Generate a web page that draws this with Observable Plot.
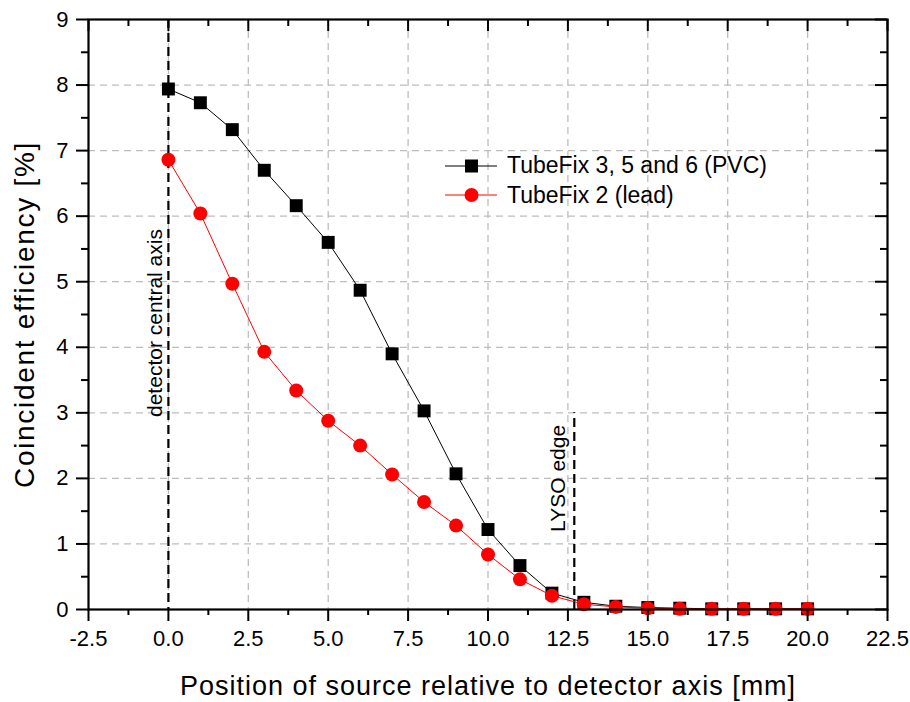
<!DOCTYPE html>
<html>
<head>
<meta charset="utf-8">
<script src="https://cdn.jsdelivr.net/npm/d3@7"></script>
<script src="https://cdn.jsdelivr.net/npm/@observablehq/plot@0.6"></script>
<style>
  html, body { margin: 0; padding: 0; background: #fff; }
  #wrap { position: relative; width: 910px; height: 702px; font-family: "Liberation Sans", Arial, sans-serif; }
  #legend { position: absolute; left: 445px; top: 151px; font-size: 23px; color: #000; }
  #legend .row { display: flex; align-items: center; height: 29.5px; }
  #legend svg { margin-right: 8px; }
</style>
</head>
<body>
<div id="wrap"></div>
<script>
// ---- data ----
const positions = [0, 1, 2, 3, 4, 5, 6, 7, 8, 9, 10, 11, 12, 13, 14, 15, 16, 17, 18, 19, 20];
const pvcEff  = [7.94, 7.73, 7.32, 6.70, 6.16, 5.60, 4.87, 3.90, 3.03, 2.07, 1.22, 0.67, 0.25, 0.11, 0.05, 0.03, 0.02, 0.01, 0.01, 0.01, 0.01];
const leadEff = [6.86, 6.04, 4.97, 3.93, 3.34, 2.88, 2.50, 2.06, 1.64, 1.28, 0.84, 0.46, 0.21, 0.08, 0.04, 0.02, 0.01, 0.01, 0.01, 0.01, 0.01];
const seriesNames = ["TubeFix 3, 5 and 6 (PVC)", "TubeFix 2 (lead)"];
const seriesColors = ["#000000", "#ff0000"];
const xTicks = [-2.5, 0, 2.5, 5, 7.5, 10, 12.5, 15, 17.5, 20, 22.5];
const xMinorTicks = [-1.25, 1.25, 3.75, 6.25, 8.75, 11.25, 13.75, 16.25, 18.75, 21.25];
const yTicks = [0, 1, 2, 3, 4, 5, 6, 7, 8, 9];
const yMinorTicks = [0.5, 1.5, 2.5, 3.5, 4.5, 5.5, 6.5, 7.5, 8.5];
const centralAxisX = 0;
const lysoEdgeX = 12.7;
const lysoEdgeTop = 3;
const xTitle = "Position of source relative to detector axis [mm]";
const yTitle = "Coincident efficiency [%]";
const annotCentral = "detector central axis";
const annotLyso = "LYSO edge";

const pvc = positions.map((x, i) => ({x, y: pvcEff[i]}));
const lead = positions.map((x, i) => ({x, y: leadEff[i]}));

const W = 910, H = 702, mL = 88, mR = 23, mT = 19, mB = 93;
const plotW = W - mL - mR, plotH = H - mT - mB;

const gridStyle = {stroke: "#bdbdbd", strokeOpacity: 1, strokeWidth: 1.3, strokeDasharray: "7,5"};
const fmtX = d => d.toFixed(1).replace("\u2212", "-");

const chart = Plot.plot({
  width: W, height: H,
  marginLeft: mL, marginRight: mR, marginTop: mT, marginBottom: mB,
  style: {fontFamily: "'Liberation Sans', Arial, sans-serif", background: "#fff", color: "#000"},
  x: {domain: [-2.5, 22.5]},
  y: {domain: [0, 9]},
  marks: [
    Plot.gridX(xTicks.slice(1, -1), gridStyle),
    Plot.gridY(yTicks.slice(1, -1), gridStyle),
    // reference dashed lines
    Plot.ruleX([centralAxisX], {stroke: "#000", strokeWidth: 2.2, strokeDasharray: "9,5"}),
    Plot.ruleX([lysoEdgeX], {y1: 0, y2: lysoEdgeTop, stroke: "#000", strokeWidth: 2.2, strokeDasharray: "9,5"}),
    // annotations
    Plot.text([annotCentral], {x: centralAxisX, y: 4.37, dx: -13, rotate: -90, textAnchor: "middle", fontSize: 21, fill: "#000"}),
    Plot.text([annotLyso], {x: lysoEdgeX, y: 2.0, dx: -16, rotate: -90, textAnchor: "middle", fontSize: 21, fill: "#000"}),
    // series
    Plot.line(pvc, {x: "x", y: "y", stroke: seriesColors[0], strokeWidth: 1}),
    Plot.dot(pvc, {x: "x", y: "y", symbol: "square", r: 7.3, fill: seriesColors[0], stroke: "none"}),
    Plot.line(lead, {x: "x", y: "y", stroke: seriesColors[1], strokeWidth: 1}),
    Plot.dot(lead, {x: "x", y: "y", symbol: "circle", r: 7, fill: seriesColors[1], stroke: "none"}),
    // axes
    Plot.axisX(xTicks, {anchor: "bottom", tickSize: 12, tickPadding: 9, tickFormat: fmtX, fontSize: 22, strokeWidth: 2, label: null}),
    Plot.axisX(xMinorTicks, {anchor: "bottom", tickSize: 6, tickFormat: () => "", strokeWidth: 2, label: null}),
    Plot.axisY(yTicks, {anchor: "left", tickSize: 12, tickPadding: 8, tickFormat: d => String(d), fontSize: 22, strokeWidth: 2, label: null}),
    Plot.axisY(yMinorTicks, {anchor: "left", tickSize: 7, tickFormat: () => "", strokeWidth: 2, label: null}),
    // mirrored inward ticks on top and right
    Plot.tickX(xTicks, {x: d => d, insetBottom: plotH - 12, stroke: "#000", strokeWidth: 2}),
    Plot.tickX(xMinorTicks, {x: d => d, insetBottom: plotH - 7, stroke: "#000", strokeWidth: 2}),
    Plot.tickY(yTicks, {y: d => d, insetLeft: plotW - 12, stroke: "#000", strokeWidth: 2}),
    Plot.tickY(yMinorTicks, {y: d => d, insetLeft: plotW - 7, stroke: "#000", strokeWidth: 2}),
    Plot.frame({stroke: "#000", strokeWidth: 2.2}),
    // axis titles
    Plot.text([xTitle], {frameAnchor: "bottom", textAnchor: "middle", lineAnchor: "middle", dy: 77, fontSize: 27, fill: "#000"}),
    Plot.text([yTitle], {frameAnchor: "left", textAnchor: "middle", lineAnchor: "middle", dx: -63, rotate: -90, fontSize: 28, fill: "#000"})
  ]
});

// wider letter spacing of the axis titles, as in the reference
d3.select(chart).selectAll("text").each(function() {
  if (this.textContent === xTitle) this.setAttribute("letter-spacing", "1px");
  if (this.textContent === yTitle) this.setAttribute("letter-spacing", "1.7px");
});

const wrap = document.getElementById("wrap");
wrap.appendChild(chart);

// legend
const legend = document.createElement("div");
legend.id = "legend";
seriesNames.forEach((name, i) => {
  const row = document.createElement("div");
  row.className = "row";
  const sw = i === 0
    ? `<svg width="54" height="20"><line x1="0" y1="10" x2="52" y2="10" stroke="${seriesColors[i]}" stroke-width="1"/><rect x="20" y="3.5" width="13" height="13" fill="${seriesColors[i]}"/></svg>`
    : `<svg width="54" height="20"><line x1="0" y1="10" x2="52" y2="10" stroke="${seriesColors[i]}" stroke-width="1"/><circle cx="26.5" cy="10" r="7" fill="${seriesColors[i]}"/></svg>`;
  row.innerHTML = sw + `<span>${name}</span>`;
  legend.appendChild(row);
});
wrap.appendChild(legend);
</script>
</body>
</html>
